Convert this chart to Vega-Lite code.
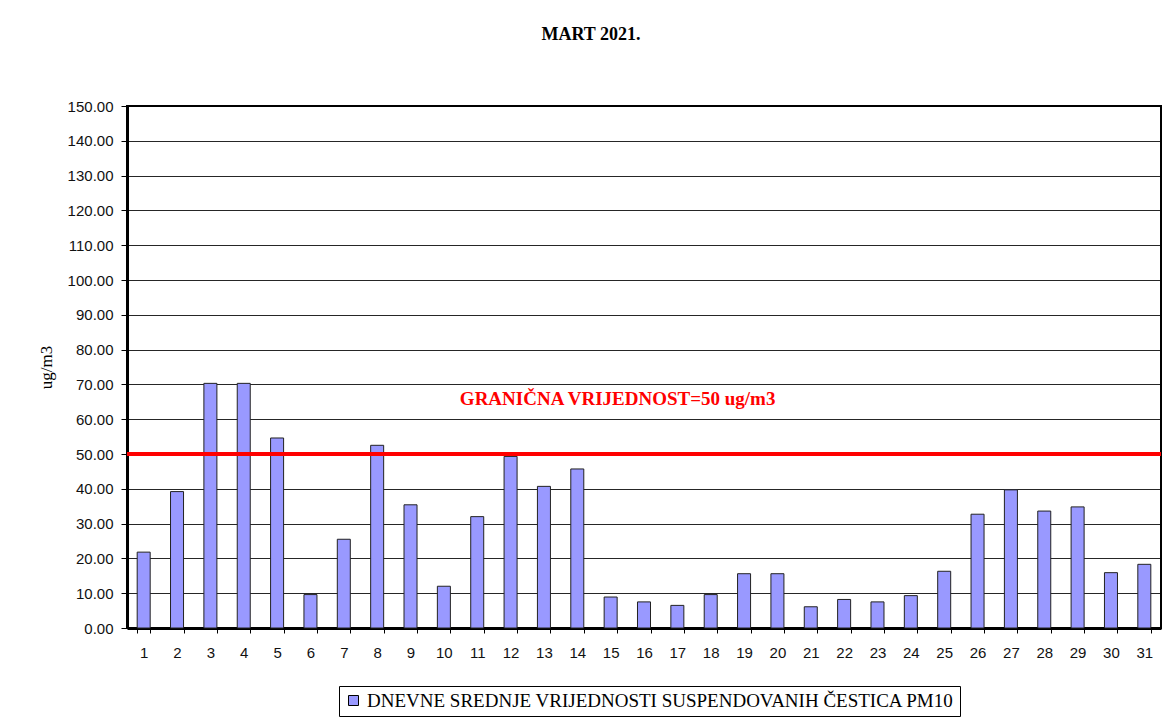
{
  "$schema": "https://vega.github.io/schema/vega-lite/v6.json",
  "width": 1034,
  "height": 522,
  "autosize": {"type": "none"},
  "padding": {"left": 127, "top": 106, "right": 2, "bottom": 92},
  "background": "white",
  "title": {
    "text": "MART 2021.",
    "font": "Liberation Serif",
    "fontSize": 18,
    "fontWeight": "bold",
    "color": "black",
    "anchor": "middle",
    "dx": -53,
    "offset": 55
  },
  "config": {
    "view": {"stroke": "black", "strokeWidth": 2},
    "axis": {
      "domainColor": "black",
      "domainWidth": 3,
      "tickColor": "black",
      "labelFont": "Liberation Sans",
      "labelFontSize": 15,
      "labelColor": "#111",
      "labelOverlap": false,
      "titleFont": "Liberation Serif",
      "titleFontWeight": "normal",
      "titleFontSize": 17,
      "titleColor": "black"
    },
    "axisY": {
      "values": [0, 10, 20, 30, 40, 50, 60, 70, 80, 90, 100, 110, 120, 130, 140, 150],
      "format": ".2f",
      "grid": true,
      "gridColor": "black",
      "gridWidth": 1,
      "gridOpacity": 0.85,
      "tickSize": 6,
      "labelPadding": 8,
      "titlePadding": 12
    },
    "legend": {"labelFont": "Liberation Serif", "labelFontSize": 19}
  },
  "layer": [
    {
      "data": {
        "values": [
          {"day": 1, "value": 21.8, "series": "DNEVNE SREDNJE VRIJEDNOSTI SUSPENDOVANIH ČESTICA PM10"},
          {"day": 2, "value": 39.2, "series": "DNEVNE SREDNJE VRIJEDNOSTI SUSPENDOVANIH ČESTICA PM10"},
          {"day": 3, "value": 70.3, "series": "DNEVNE SREDNJE VRIJEDNOSTI SUSPENDOVANIH ČESTICA PM10"},
          {"day": 4, "value": 70.3, "series": "DNEVNE SREDNJE VRIJEDNOSTI SUSPENDOVANIH ČESTICA PM10"},
          {"day": 5, "value": 54.6, "series": "DNEVNE SREDNJE VRIJEDNOSTI SUSPENDOVANIH ČESTICA PM10"},
          {"day": 6, "value": 9.6, "series": "DNEVNE SREDNJE VRIJEDNOSTI SUSPENDOVANIH ČESTICA PM10"},
          {"day": 7, "value": 25.5, "series": "DNEVNE SREDNJE VRIJEDNOSTI SUSPENDOVANIH ČESTICA PM10"},
          {"day": 8, "value": 52.5, "series": "DNEVNE SREDNJE VRIJEDNOSTI SUSPENDOVANIH ČESTICA PM10"},
          {"day": 9, "value": 35.4, "series": "DNEVNE SREDNJE VRIJEDNOSTI SUSPENDOVANIH ČESTICA PM10"},
          {"day": 10, "value": 12.0, "series": "DNEVNE SREDNJE VRIJEDNOSTI SUSPENDOVANIH ČESTICA PM10"},
          {"day": 11, "value": 32.0, "series": "DNEVNE SREDNJE VRIJEDNOSTI SUSPENDOVANIH ČESTICA PM10"},
          {"day": 12, "value": 49.3, "series": "DNEVNE SREDNJE VRIJEDNOSTI SUSPENDOVANIH ČESTICA PM10"},
          {"day": 13, "value": 40.7, "series": "DNEVNE SREDNJE VRIJEDNOSTI SUSPENDOVANIH ČESTICA PM10"},
          {"day": 14, "value": 45.7, "series": "DNEVNE SREDNJE VRIJEDNOSTI SUSPENDOVANIH ČESTICA PM10"},
          {"day": 15, "value": 8.9, "series": "DNEVNE SREDNJE VRIJEDNOSTI SUSPENDOVANIH ČESTICA PM10"},
          {"day": 16, "value": 7.5, "series": "DNEVNE SREDNJE VRIJEDNOSTI SUSPENDOVANIH ČESTICA PM10"},
          {"day": 17, "value": 6.5, "series": "DNEVNE SREDNJE VRIJEDNOSTI SUSPENDOVANIH ČESTICA PM10"},
          {"day": 18, "value": 9.6, "series": "DNEVNE SREDNJE VRIJEDNOSTI SUSPENDOVANIH ČESTICA PM10"},
          {"day": 19, "value": 15.6, "series": "DNEVNE SREDNJE VRIJEDNOSTI SUSPENDOVANIH ČESTICA PM10"},
          {"day": 20, "value": 15.6, "series": "DNEVNE SREDNJE VRIJEDNOSTI SUSPENDOVANIH ČESTICA PM10"},
          {"day": 21, "value": 6.1, "series": "DNEVNE SREDNJE VRIJEDNOSTI SUSPENDOVANIH ČESTICA PM10"},
          {"day": 22, "value": 8.2, "series": "DNEVNE SREDNJE VRIJEDNOSTI SUSPENDOVANIH ČESTICA PM10"},
          {"day": 23, "value": 7.5, "series": "DNEVNE SREDNJE VRIJEDNOSTI SUSPENDOVANIH ČESTICA PM10"},
          {"day": 24, "value": 9.3, "series": "DNEVNE SREDNJE VRIJEDNOSTI SUSPENDOVANIH ČESTICA PM10"},
          {"day": 25, "value": 16.3, "series": "DNEVNE SREDNJE VRIJEDNOSTI SUSPENDOVANIH ČESTICA PM10"},
          {"day": 26, "value": 32.7, "series": "DNEVNE SREDNJE VRIJEDNOSTI SUSPENDOVANIH ČESTICA PM10"},
          {"day": 27, "value": 39.7, "series": "DNEVNE SREDNJE VRIJEDNOSTI SUSPENDOVANIH ČESTICA PM10"},
          {"day": 28, "value": 33.6, "series": "DNEVNE SREDNJE VRIJEDNOSTI SUSPENDOVANIH ČESTICA PM10"},
          {"day": 29, "value": 34.8, "series": "DNEVNE SREDNJE VRIJEDNOSTI SUSPENDOVANIH ČESTICA PM10"},
          {"day": 30, "value": 15.9, "series": "DNEVNE SREDNJE VRIJEDNOSTI SUSPENDOVANIH ČESTICA PM10"},
          {"day": 31, "value": 18.3, "series": "DNEVNE SREDNJE VRIJEDNOSTI SUSPENDOVANIH ČESTICA PM10"}
        ]
      },
      "mark": {"type": "bar", "stroke": "#222", "strokeWidth": 1},
      "encoding": {
        "x": {
          "field": "day",
          "type": "ordinal",
          "scale": {"paddingInner": 0.61, "paddingOuter": 0.305},
          "axis": {
            "title": null,
            "labelAngle": 0,
            "tickBand": "extent",
            "tickSize": 5,
            "labelPadding": 12,
            "grid": false
          }
        },
        "y": {
          "field": "value",
          "type": "quantitative",
          "scale": {"domain": [0, 150], "nice": false},
          "axis": {
            "title": "ug/m3",
            "values": [0, 10, 20, 30, 40, 50, 60, 70, 80, 90, 100, 110, 120, 130, 140, 150]
          }
        },
        "color": {
          "field": "series",
          "type": "nominal",
          "scale": {"range": ["#9999FF"]},
          "legend": {
            "title": null,
            "orient": "none",
            "legendX": 212,
            "legendY": 580,
            "strokeColor": "black",
            "padding": 5,
            "symbolType": "square",
            "symbolSize": 100,
            "symbolStrokeColor": "black",
            "symbolStrokeWidth": 1,
            "symbolOpacity": 1,
            "labelFont": "Liberation Serif",
            "labelFontSize": 19,
            "labelColor": "black",
            "labelOffset": 4,
            "labelLimit": 800
          }
        }
      }
    },
    {
      "data": {"values": [{"limit": 50}]},
      "mark": {"type": "rule", "color": "red", "strokeWidth": 4},
      "encoding": {
        "y": {
          "field": "limit",
          "type": "quantitative",
          "axis": {
            "title": "ug/m3",
            "values": [0, 10, 20, 30, 40, 50, 60, 70, 80, 90, 100, 110, 120, 130, 140, 150]
          }
        }
      }
    },
    {
      "data": {"values": [{"day": 15, "pos": 65.8, "label": "GRANIČNA VRIJEDNOST=50 ug/m3"}]},
      "mark": {
        "type": "text",
        "color": "red",
        "font": "Liberation Serif",
        "fontSize": 19,
        "fontWeight": "bold",
        "dx": 7
      },
      "encoding": {
        "x": {"field": "day", "type": "ordinal"},
        "y": {
          "field": "pos",
          "type": "quantitative",
          "axis": {
            "title": "ug/m3",
            "values": [0, 10, 20, 30, 40, 50, 60, 70, 80, 90, 100, 110, 120, 130, 140, 150]
          }
        },
        "text": {"field": "label"}
      }
    }
  ]
}
